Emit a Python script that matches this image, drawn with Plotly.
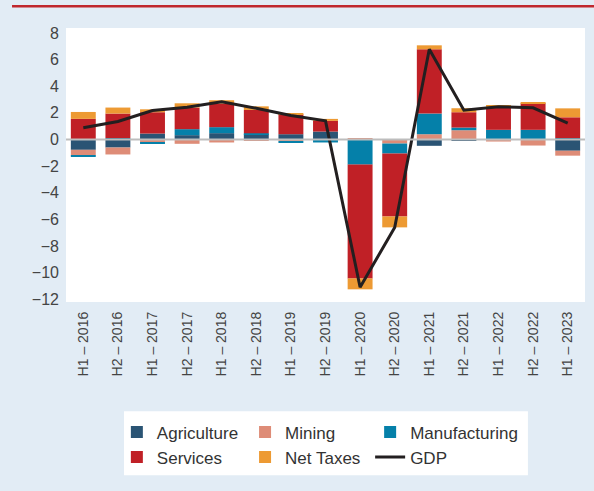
import plotly.graph_objects as go

periods = ["H1 – 2016", "H2 – 2016", "H1 – 2017", "H2 – 2017", "H1 – 2018", "H2 – 2018",
           "H1 – 2019", "H2 – 2019", "H1 – 2020", "H2 – 2020", "H1 – 2021", "H2 – 2021",
           "H1 – 2022", "H2 – 2022", "H1 – 2023"]

agriculture = [-0.77, -0.60, 0.45, 0.33, 0.48, 0.40, 0.40, 0.60, 0.0, 0.0, -0.47, -0.10, 0.0, 0.0, -0.84]
mining = [-0.42, -0.52, -0.22, -0.32, -0.22, -0.05, -0.12, 0.0, 0.10, -0.30, 0.40, 0.70, -0.15, -0.45, -0.37]
manufacturing = [-0.07, 0.10, -0.07, 0.45, 0.45, 0.07, -0.10, -0.22, -1.88, -0.75, 1.55, 0.20, 0.73, 0.73, 0.10]
services = [1.55, 1.85, 1.60, 1.62, 1.77, 1.75, 1.50, 0.80, -8.54, -4.72, 4.82, 1.15, 1.72, 2.00, 1.57]
net_taxes = [0.52, 0.45, 0.22, 0.32, 0.25, 0.27, 0.07, 0.15, -0.82, -0.82, 0.30, 0.30, 0.10, 0.08, 0.67]
gdp = [0.88, 1.36, 2.18, 2.43, 2.83, 2.35, 1.80, 1.40, -11.08, -6.60, 6.78, 2.20, 2.46, 2.38, 1.23]

FONT = "Liberation Sans, Arial, sans-serif"
BG = "#e2ecf5"

fig = go.Figure()

bars = [
    ("Agriculture", agriculture, "#2a5474", "legend"),
    ("Mining", mining, "#de8c77", "legend2"),
    ("Manufacturing", manufacturing, "#0580a9", "legend3"),
    ("Services", services, "#c02026", "legend"),
    ("Net Taxes", net_taxes, "#ed9a33", "legend2"),
]
for name, vals, col, leg in bars:
    fig.add_trace(go.Bar(x=periods, y=vals, name=name, marker_color=col,
                         marker_line_width=0, legend=leg))

fig.add_trace(go.Scatter(x=periods, y=gdp, name="GDP", mode="lines",
                         line=dict(color="#231f20", width=3), legend="legend3"))

leg_common = dict(orientation="v", yanchor="top", xanchor="left", y=-0.41,
                  bgcolor="rgba(0,0,0,0)", font=dict(family=FONT, size=17, color="#333"),
                  tracegroupgap=0, traceorder="normal")

fig.update_layout(
    width=594, height=491,
    margin=dict(l=66, r=9, t=28, b=188.5, autoexpand=False),
    paper_bgcolor=BG,
    plot_bgcolor="white",
    barmode="relative",
    bargap=0.28,
    font=dict(family=FONT, size=16, color="#444"),
    legend=dict(x=0.098, **leg_common),
    legend2=dict(x=0.345, **leg_common),
    legend3=dict(x=0.586, **leg_common),
    xaxis=dict(tickangle=-90, showgrid=False, zeroline=False, showline=False,
               tickfont=dict(size=14, color="#444"), ticklabelstandoff=6),
    yaxis=dict(range=[-12.19, 8.37], dtick=2, showgrid=False, zeroline=False,
               showline=False, tickfont=dict(size=16, color="#444"), ticklabelstandoff=6),
    shapes=[
        dict(type="rect", xref="paper", yref="paper", x0=0.1118, x1=0.890, y0=-0.632, y1=-0.399,
             fillcolor="white", line_width=0, layer="below"),
        dict(type="rect", xref="paper", yref="paper", x0=-0.104, x1=1.02, y0=1.0747, y1=1.0838,
             fillcolor="#c0272d", line_width=0),
        dict(type="line", xref="paper", yref="y", x0=0, x1=1, y0=0, y1=0,
             line=dict(color="#bdbdbd", width=2), layer="above"),
    ],
)

# page body has a default 8px margin; drop it so the figure sits at the corner
fig.write_html("out.html", config={"displayModeBar": False},
               post_script="document.body.style.margin='0';document.body.style.background='%s';" % BG)
